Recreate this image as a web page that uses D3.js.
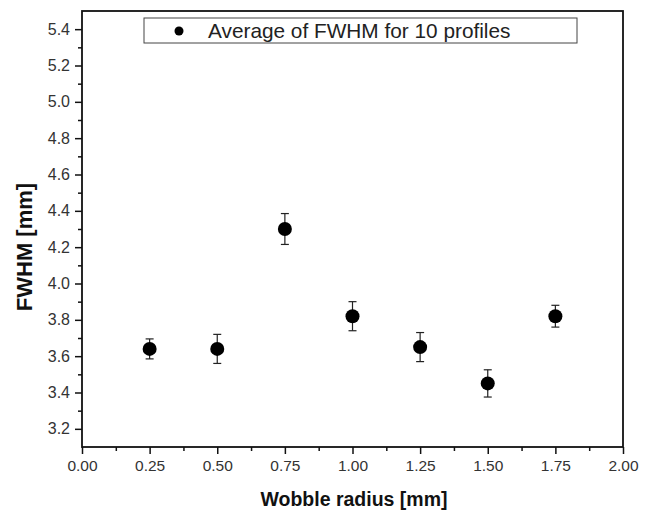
<!DOCTYPE html>
<html>
<head>
<meta charset="utf-8">
<script src="https://cdn.jsdelivr.net/npm/d3@7"></script>
<style>
  body { margin: 0; background: #fff; }
  text { font-family: "Liberation Sans", Arial, sans-serif; }
</style>
</head>
<body>
<div id="chart-area"></div>
<script>
var radius = [0.25, 0.5, 0.75, 1.0, 1.25, 1.5, 1.75]
var fwhm = [3.64, 3.64, 4.30, 3.82, 3.65, 3.45, 3.82]
var err = [0.055, 0.08, 0.085, 0.08, 0.08, 0.075, 0.06]
var xTicks = [0, 0.25, 0.5, 0.75, 1.0, 1.25, 1.5, 1.75, 2.0]
var yTicks = [3.2, 3.4, 3.6, 3.8, 4.0, 4.2, 4.4, 4.6, 4.8, 5.0, 5.2, 5.4]
var legendLabel = 'Average of FWHM for 10 profiles'

var data = radius.map((r, i) => ({x: r, y: fwhm[i], e: err[i]}))

var svg = d3.select("#chart-area").append("svg")
    .attr("width", 649)
    .attr("height", 510)

var x = d3.scaleLinear().domain([0, 2]).range([82, 623])
var y = d3.scaleLinear().domain([3.1, 5.5]).range([447, 11])

// minor ticks
var xMinor = d3.range(0.125, 2, 0.25)
var yMinor = d3.range(3.3, 5.5, 0.2)

svg.append('g')
    .attr('transform', 'translate(0,447)')
    .call(d3.axisBottom(x).tickValues(xMinor).tickSize(4).tickFormat(''))
svg.append('g')
    .attr('transform', 'translate(82,0)')
    .call(d3.axisLeft(y).tickValues(yMinor).tickSize(4).tickFormat(''))

var xAxis = svg.append('g')
    .attr('transform', 'translate(0,447)')
    .call(d3.axisBottom(x).tickValues(xTicks).tickSize(7).tickPadding(6)
        .tickFormat(d3.format('.2f')))
var yAxis = svg.append('g')
    .attr('transform', 'translate(82,0)')
    .call(d3.axisLeft(y).tickValues(yTicks).tickSize(7).tickPadding(5)
        .tickFormat(d3.format('.1f')))

svg.selectAll('.tick line').attr('stroke', '#111').attr('stroke-width', 1.5)
svg.selectAll('.domain').remove()
xAxis.selectAll('text').attr('font-size', 15.5).attr('fill', '#333')
    .attr('font-family', '"Liberation Sans", Arial, sans-serif')
yAxis.selectAll('text').attr('font-size', 16).attr('fill', '#333')
    .attr('font-family', '"Liberation Sans", Arial, sans-serif')

// frame
svg.append('rect')
    .attr('x', 82).attr('y', 11)
    .attr('width', 623 - 82).attr('height', 447 - 11)
    .attr('fill', 'none').attr('stroke', '#111').attr('stroke-width', 1.8)

// error bars
var eb = svg.append('g').attr('stroke', '#222').attr('stroke-width', 1.2)
eb.selectAll('.v').data(data).enter().append('line')
    .attr('x1', d => x(d.x)).attr('x2', d => x(d.x))
    .attr('y1', d => y(d.y + d.e)).attr('y2', d => y(d.y - d.e))
eb.selectAll('.t').data(data).enter().append('line')
    .attr('x1', d => x(d.x) - 4).attr('x2', d => x(d.x) + 4)
    .attr('y1', d => y(d.y + d.e)).attr('y2', d => y(d.y + d.e))
eb.selectAll('.b').data(data).enter().append('line')
    .attr('x1', d => x(d.x) - 4).attr('x2', d => x(d.x) + 4)
    .attr('y1', d => y(d.y - d.e)).attr('y2', d => y(d.y - d.e))

svg.selectAll('circle.pt').data(data).enter().append('circle')
    .attr('class', 'pt')
    .attr('cx', d => x(d.x)).attr('cy', d => y(d.y))
    .attr('r', 7).attr('fill', '#000')

// legend
svg.append('rect')
    .attr('x', 144).attr('y', 18).attr('width', 433).attr('height', 25)
    .attr('fill', '#fff').attr('stroke', '#444').attr('stroke-width', 1)
svg.append('circle').attr('cx', 179).attr('cy', 31).attr('r', 4.5).attr('fill', '#000')
svg.append('text')
    .attr('x', 208).attr('y', 38)
    .attr('font-size', 20.8).attr('fill', '#222')
    .text(legendLabel)

// axis titles
svg.append('text')
    .attr('x', 354).attr('y', 506)
    .attr('text-anchor', 'middle')
    .attr('font-size', 19.5).attr('font-weight', 'bold').attr('fill', '#111')
    .text('Wobble radius [mm]')
svg.append('text')
    .attr('transform', 'translate(32,247) rotate(-90)')
    .attr('text-anchor', 'middle')
    .attr('font-size', 22).attr('font-weight', 'bold').attr('fill', '#111')
    .text('FWHM [mm]')
</script>
</body>
</html>
